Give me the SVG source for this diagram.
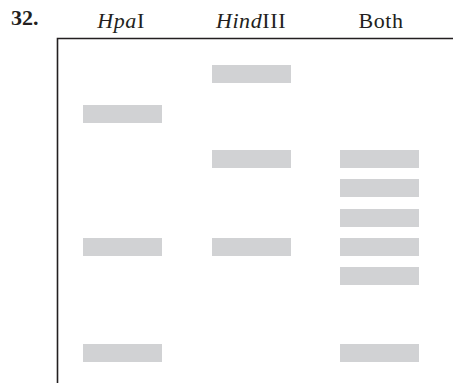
<svg xmlns="http://www.w3.org/2000/svg" width="453" height="383" viewBox="0 0 453 383">
<style>
.band{fill:#d1d2d4}
.lbl{font-family:"Liberation Serif","DejaVu Serif",serif;font-size:22px;fill:#231f20;letter-spacing:0.6px}
.frame{fill:none;stroke:#231f20;stroke-width:1.6}
</style>
<rect width="453" height="383" fill="#fff"/>
<text x="11" y="25" class="lbl" font-weight="bold" font-size="20" style="letter-spacing:0">32.</text>
<g id="labels">
<text x="121" y="28" class="lbl" text-anchor="middle"><tspan font-style="italic">Hpa</tspan>I</text>
<text x="251" y="28" class="lbl" text-anchor="middle"><tspan font-style="italic">Hind</tspan>III</text>
<text x="381" y="28" class="lbl" text-anchor="middle">Both</text>
</g>
<path class="frame" d="M57.5 383 V38.5 H453"/>
<g id="lane-hpai">
<rect class="band" x="83" y="105" width="79" height="18"/>
<rect class="band" x="83" y="238" width="79" height="18"/>
<rect class="band" x="83" y="344" width="79" height="18"/>
</g>
<g id="lane-hindiii">
<rect class="band" x="212" y="65" width="79" height="18"/>
<rect class="band" x="212" y="150" width="79" height="18"/>
<rect class="band" x="212" y="238" width="79" height="18"/>
</g>
<g id="lane-both">
<rect class="band" x="340" y="150" width="79" height="18"/>
<rect class="band" x="340" y="179" width="79" height="18"/>
<rect class="band" x="340" y="209" width="79" height="18"/>
<rect class="band" x="340" y="238" width="79" height="18"/>
<rect class="band" x="340" y="267" width="79" height="18"/>
<rect class="band" x="340" y="344" width="79" height="18"/>
</g>
</svg>
